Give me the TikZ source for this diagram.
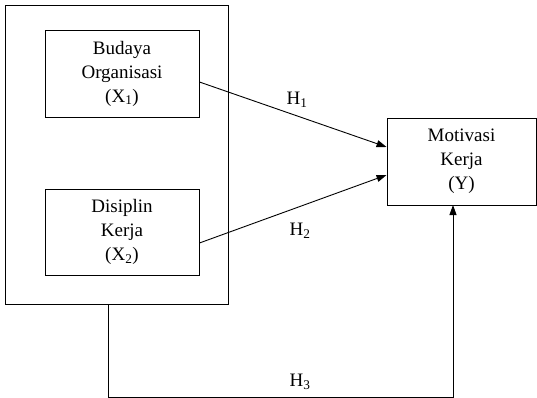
\documentclass[tikz,border=0pt]{standalone}
\usepackage{fontspec}
\setmainfont{Liberation Serif}
\usetikzlibrary{arrows.meta}
\begin{document}
\begin{tikzpicture}[x=1pt,y=-1pt,
  box/.style={draw, line width=0.9pt, align=center, inner sep=0pt,
    font=\fontsize{19}{24}\selectfont},
  lbl/.style={font=\fontsize{19}{24}\selectfont, inner sep=0pt},
  arr/.style={line width=0.9pt, -{Triangle[length=10pt,width=7pt]}},
  ln/.style={line width=0.9pt}]
\useasboundingbox (0,0) rectangle (537,398);
\node[box, minimum width=223, minimum height=299] (outer) at (116.5,154.5) {};
\node[box, minimum width=154, minimum height=87] (B) at (122,73.5) {Budaya\\Organisasi\\(X\textsubscript{1})};
\node[box, minimum width=154, minimum height=86] (D) at (122,232) {Disiplin\\Kerja\\(X\textsubscript{2})};
\node[box, minimum width=149, minimum height=87] (Y) at (461.5,161.5) {Motivasi\\Kerja\\(Y)};
\draw[arr] ([yshift=-8.5pt]B.east) -- ([yshift=14.5pt]Y.west);
\draw[arr] ([yshift=-11pt]D.east) -- ([yshift=-13.5pt]Y.west);
\coordinate (h3s) at (108,304);
\coordinate (h3e) at (453,205);
\draw[arr] (h3s) -- ++(0,93) -| (h3e);
\node[lbl] (h1) at (297,100) {H\textsubscript{1}};
\node[lbl] (h2) at (300,231) {H\textsubscript{2}};
\node[lbl] (h3) at (300,382) {H\textsubscript{3}};
\end{tikzpicture}
\end{document}
